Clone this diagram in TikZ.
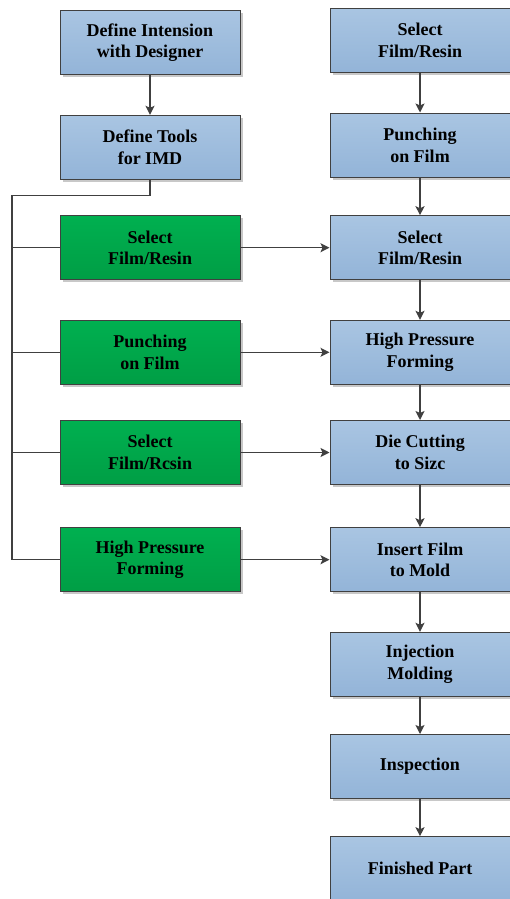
\documentclass[tikz,border=0pt]{standalone}
\usepackage{fontspec}
\setmainfont{Liberation Serif}
\usetikzlibrary{arrows.meta,shadows}
\definecolor{edgec}{HTML}{404040}
\definecolor{blueT}{HTML}{A9C5E2}
\definecolor{blueB}{HTML}{93B4D8}
\definecolor{greenT}{HTML}{00B050}
\definecolor{greenB}{HTML}{009E45}
\definecolor{shad}{HTML}{C8C8C8}
\tikzset{
  box/.style={draw=edgec, line width=1pt, minimum width=180pt, minimum height=64pt,
    inner sep=0pt, align=center, font=\fontsize{18}{21.7}\selectfont\bfseries,
    drop shadow={shadow xshift=2.5pt, shadow yshift=-2.5pt, fill=shad, opacity=1}},
  bluebox/.style={box, top color=blueT, bottom color=blueB},
  greenbox/.style={box, top color=greenT, bottom color=greenB},
  conn/.style={draw=edgec, line width=1.4pt},
  arr/.style={conn, -{Stealth[length=9pt,width=9pt,inset=2pt]}}
}
\begin{document}
\begin{tikzpicture}[x=1pt,y=-1pt]
\useasboundingbox (0,0) rectangle (509,899);
% left column
\node[bluebox] (l1) at (150,42.5) {Define Intension\\with Designer};
\node[bluebox] (l2) at (150,147.3) {Define Tools\\for IMD};
\node[greenbox] (g1) at (150,247.7) {Select\\Film/Resin};
\node[greenbox] (g2) at (150,352.3) {Punching\\on Film};
\node[greenbox] (g3) at (150,452.5) {Select\\Film/Rcsin};
\node[greenbox] (g4) at (150,559.7) {High Pressure\\Forming};
% right column
\node[bluebox] (r1) at (420,40.5) {Select\\Film/Resin};
\node[bluebox] (r2) at (420,145) {Punching\\on Film};
\node[bluebox] (r3) at (420,247.7) {Select\\Film/Resin};
\node[bluebox] (r4) at (420,352.3) {High Pressure\\Forming};
\node[bluebox] (r5) at (420,452.5) {Die Cutting\\to Sizc};
\node[bluebox] (r6) at (420,559.7) {Insert Film\\to Mold};
\node[bluebox] (r7) at (420,664.3) {Injection\\Molding};
\node[bluebox] (r8) at (420,766.5) {Inspection};
\node[bluebox] (r9) at (420,868.7) {Finished Part};
% connectors
\coordinate (bend) at (12,195.3);
\draw[arr] (l1) -- (l2);
\draw[conn] (l2.south) |- (bend) -- (bend |- g4.west) -- (g4.west);
\draw[conn] (bend |- g1.west) -- (g1.west);
\draw[conn] (bend |- g2.west) -- (g2.west);
\draw[conn] (bend |- g3.west) -- (g3.west);
\draw[arr] (g1) -- (r3);
\draw[arr] (g2) -- (r4);
\draw[arr] (g3) -- (r5);
\draw[arr] (g4) -- (r6);
\draw[arr] (r1) -- (r2);
\draw[arr] (r2) -- (r3);
\draw[arr] (r3) -- (r4);
\draw[arr] (r4) -- (r5);
\draw[arr] (r5) -- (r6);
\draw[arr] (r6) -- (r7);
\draw[arr] (r7) -- (r8);
\draw[arr] (r8) -- (r9);
\end{tikzpicture}
\end{document}
